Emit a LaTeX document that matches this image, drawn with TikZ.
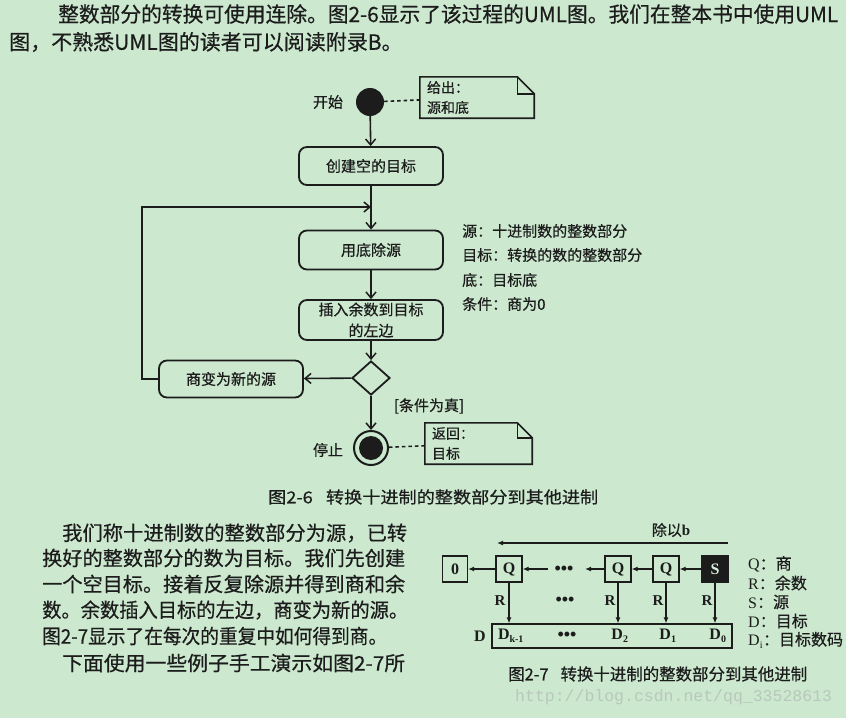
\documentclass[tikz,border=0pt]{standalone}
\usepackage{fontspec}
\setmainfont{Noto Sans CJK SC}[FakeBold=0.5]
\newfontfamily\lat{Liberation Serif}
\newfontfamily\mono{Liberation Mono}
\usetikzlibrary{arrows.meta,shapes.geometric,calc}
\definecolor{bg}{RGB}{204,232,207}
\definecolor{ink}{RGB}{28,28,28}
\definecolor{wm}{RGB}{184,200,188}
\newcommand\fs[2][]{\fontsize{#2}{#2}\selectfont}
\newlength\fitlen
\newcommand\fitto[2]{\settowidth\fitlen{#2}\pgfmathsetmacro\fitratio{#1/\fitlen}\scalebox{\fitratio}[1]{#2}}
\newcommand\notefold[2]{%
  \draw[line width=1.6pt,draw=ink] (#1.north west) -- ([xshift=-#2]#1.north east) -- ([yshift=-#2]#1.north east) -- (#1.south east) -- (#1.south west) -- cycle;
  \draw[line width=1.4pt,draw=ink] ([xshift=-#2]#1.north east) |- ([yshift=-#2]#1.north east);}
\tikzset{
  act/.style={draw=ink, line width=1.8pt, rounded corners=8pt, minimum width=144pt, minimum height=38pt, font=\fs{15}, align=center, inner sep=0pt, text=ink},
  flow/.style={draw=ink, line width=1.6pt, -{Straight Barb[length=6pt,width=10pt,line width=1.5pt]}},
  dashline/.style={draw=ink, line width=1.6pt, dash pattern=on 3.5pt off 3pt},
  notebox/.style={text width=#1, inner xsep=7pt, inner ysep=0pt, minimum height=41pt, align=left, font=\fontsize{14}{20}\selectfont, text=ink},
  lbl/.style={font=\fs{15}, text=ink, inner sep=0pt},
  sq/.style={draw=ink, line width=1.3pt, minimum size=26pt, inner sep=0pt, font=\lat\bfseries\fs{16}, text=ink},
  sarr/.style={draw=ink, line width=1.3pt, -{Latex[length=6pt,width=5pt]}},
  para/.style={anchor=west, inner sep=0pt, font=\fs{20}, text=ink},
  dots/.style={font=\lat\bfseries\fs{18}, text=ink, inner sep=0pt},
}
\begin{document}
\begin{tikzpicture}[x=1pt,y=-1pt]
\useasboundingbox (0,0) rectangle (846,718);
\fill[bg] (0,0) rectangle (846,718);

% top paragraph
\node[para, font=\fs{21}] (t1) at (58,14) {\fitto{780pt}{整数部分的转换可使用连除。图2-6显示了该过程的UML图。我们在整本书中使用UML}};
\node[para, font=\fs{21}] (t2) at (9,42) {图，不熟悉UML图的读者可以阅读附录B。};

% Figure 2-6
\node[circle, fill=ink, minimum size=28pt, inner sep=0pt] (start) at (370,102) {};
\node[lbl] (startlbl) at (328,102) {开始};
\node[notebox=100pt] (n1) at (477,97.5) {给出：\\源和底};
\notefold{n1}{17pt}
\draw[dashline] (start) -- (n1);

\node[act] (box1) at (371,166) {创建空的目标};
\node[act, minimum height=39pt] (box2) at (371,250) {用底除源};
\node[act, minimum height=40pt, font=\fontsize{15}{21}\selectfont] (box3) at (371,320) {插入余数到目标\\的左边};
\node[diamond, draw=ink, line width=1.8pt, minimum width=38pt, minimum height=34pt, inner sep=0pt] (dia) at (371,378) {};
\node[act, minimum height=37pt] (box4) at (231,379) {商变为新的源};
\node[circle, draw=ink, line width=2pt, minimum size=34pt, inner sep=0pt] (stop) at (371,448) {};
\node[circle, fill=ink, minimum size=24pt, inner sep=0pt] (stopin) at (stop) {};
\node[lbl] (stoplbl) at (328,450) {停止};
\node[lbl] (cond) at (429,406) {[条件为真]};
\node[notebox=93pt] (n2) at (478.5,443.5) {返回：\\目标};
\notefold{n2}{15pt}
\draw[dashline] (stop) -- (n2);

\coordinate (merge) at (371,207);
\draw[flow] (start) -- (box1);
\draw[flow] (box1) -- (box2);
\draw[flow] (box2) -- (box3);
\draw[flow] (box3) -- (dia);
\draw[flow] (dia) -- (box4);
\draw[flow] (dia) -- (stop);
\draw[flow] (box4.west) -- ++(-16,0) |- (merge);

\node[lbl, anchor=west] (s1) at (462,231) {源：十进制数的整数部分};
\node[lbl, anchor=west] (s2) at (462,255) {目标：转换的数的整数部分};
\node[lbl, anchor=west] (s3) at (462,280) {底：目标底};
\node[lbl, anchor=west] (s4) at (462,304) {条件：商为0};

\node[lbl, font=\fs{16.5}, anchor=west] (cap1) at (268,497) {\fitto{330pt}{图2-6\hspace{12pt}转换十进制的整数部分到其他进制}};

% bottom-left paragraph
\node[para] (p1) at (62,533) {\fitto{345pt}{我们称十进制数的整数部分为源，已转}};
\node[para] (p2) at (42,558) {\fitto{363pt}{换好的整数部分的数为目标。我们先创建}};
\node[para] (p3) at (42,584) {\fitto{363pt}{一个空目标。接着反复除源并得到商和余}};
\node[para] (p4) at (42,610) {\fitto{366pt}{数。余数插入目标的左边，商变为新的源。}};
\node[para] (p5) at (42,636) {\fitto{345pt}{图2-7显示了在每次的重复中如何得到商。}};
\node[para] (p6) at (62,663) {\fitto{343pt}{下面使用一些例子手工演示如图2-7所}};

% Figure 2-7
\node[lbl, font=\fs{15}] (div) at (671,530) {除以{\lat\bfseries b}};
\coordinate (la1) at (728,543);
\coordinate (la2) at (497,543);
\draw[sarr] (la1) -- (la2);

\node[sq, minimum width=25pt] (zero) at (455,569) {0};
\node[sq] (q1) at (509,569) {Q};
\node[sq] (q2) at (618,569) {Q};
\node[sq] (q3) at (666,569) {Q};
\node[sq, fill=ink, text=bg!70!white] (s) at (715,569) {S};
\node[dots] (d1) at (564,570) {•••};
\coordinate (a1) at (548,569);
\coordinate (a2) at (585,569);
\draw[sarr] (q1) -- (zero);
\draw[sarr] (a1) -- (q1);
\draw[sarr] (q2) -- (a2);
\draw[sarr] (q3) -- (q2);
\draw[sarr] (s) -- (q3);

\node[draw=ink, line width=1.3pt, minimum width=240pt, minimum height=24pt, inner sep=0pt] (dbox) at (612,636) {};
\node[lbl, font=\lat\bfseries\fs{16}] (dl) at (480,636) {D};
\draw[sarr] (q1.south) -- (q1.south |- dbox.north);
\draw[sarr] (q2.south) -- (q2.south |- dbox.north);
\draw[sarr] (q3.south) -- (q3.south |- dbox.north);
\draw[sarr] (s.south) -- (s.south |- dbox.north);
\node[lbl, font=\lat\bfseries\fs{15}] (r1) at (500,601) {R};
\node[lbl, font=\lat\bfseries\fs{15}] (r2) at (610,601) {R};
\node[lbl, font=\lat\bfseries\fs{15}] (r3) at (658,601) {R};
\node[lbl, font=\lat\bfseries\fs{15}] (r4) at (707,601) {R};
\node[dots] (d2) at (565,601) {•••};

\node[lbl, font=\lat\bfseries\fs{16}] (dk) at (511,636) {D\textsubscript{\fs{10}k-1}};
\node[dots] (d3) at (567,636) {•••};
\node[lbl, font=\lat\bfseries\fs{16}] (dd2) at (620,636) {D\textsubscript{\fs{10}2}};
\node[lbl, font=\lat\bfseries\fs{16}] (dd1) at (668,636) {D\textsubscript{\fs{10}1}};
\node[lbl, font=\lat\bfseries\fs{16}] (dd0) at (718,636) {D\textsubscript{\fs{10}0}};

\node[lbl, anchor=west, font=\fs{16}] (g1) at (748,564) {{\lat Q}：商};
\node[lbl, anchor=west, font=\fs{16}] (g2) at (748,583) {{\lat R}：余数};
\node[lbl, anchor=west, font=\fs{16}] (g3) at (748,602) {{\lat S}：源};
\node[lbl, anchor=west, font=\fs{16}] (g4) at (748,621) {{\lat D}：目标};
\node[lbl, anchor=west, font=\fs{16}] (g5) at (748,640) {{\lat D\textsubscript{\fs{10}i}}：目标数码};

\node[lbl, font=\fs{16.5}, anchor=west] (cap2) at (508,674) {\fitto{299pt}{图2-7\hspace{12pt}转换十进制的整数部分到其他进制}};
\node[anchor=west, inner sep=0pt, font=\mono\fs{16.5}, text=wm] (wmk) at (515,697) {http://blog.csdn.net/qq\_33528613};
\end{tikzpicture}
\end{document}
